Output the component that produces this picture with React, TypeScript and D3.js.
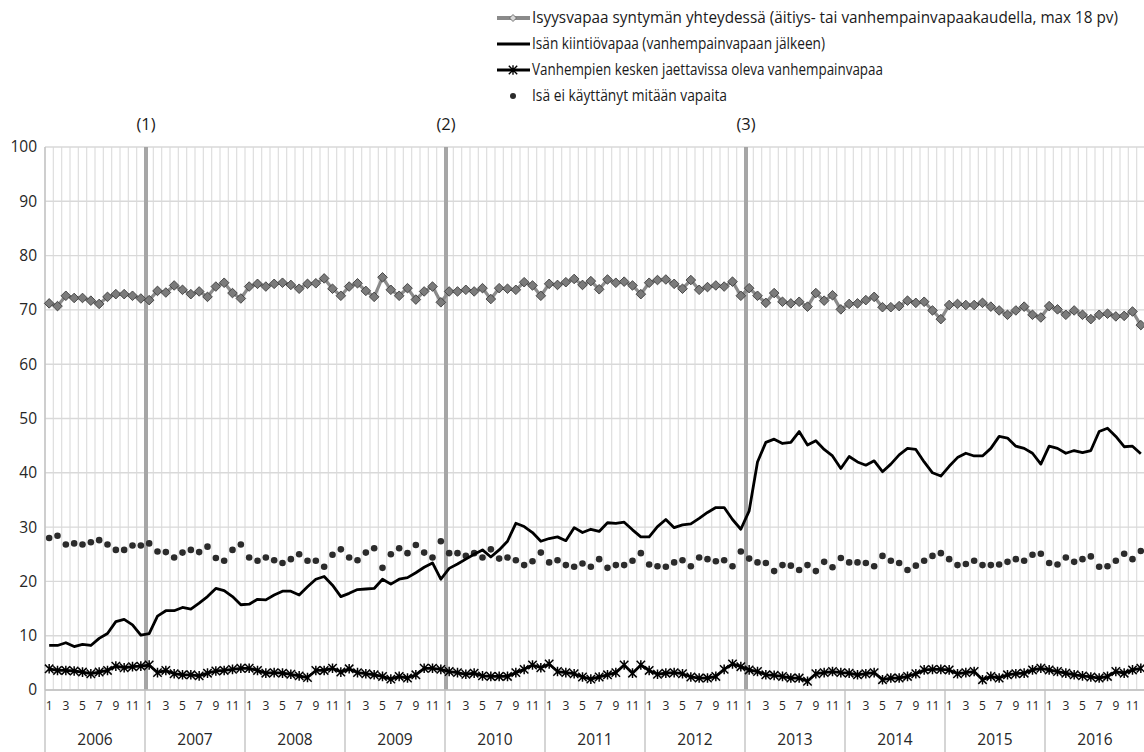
import React from 'react';
import * as d3 from 'd3';

const years = ['2006', '2007', '2008', '2009', '2010', '2011', '2012', '2013', '2014', '2015', '2016'];
const monthTicks = [1, 3, 5, 7, 9, 11];
const yTicks = [0, 10, 20, 30, 40, 50, 60, 70, 80, 90, 100];

const legendLabels = [
  'Isyysvapaa syntymän yhteydessä (äitiys- tai vanhempainvapaakaudella, max 18 pv)',
  'Isän kiintiövapaa (vanhempainvapaan jälkeen)',
  'Vanhempien kesken jaettavissa oleva vanhempainvapaa',
  'Isä ei käyttänyt mitään vapaita',
];

const periodLabels = ['(1)', '(2)', '(3)'];
const periodStartIndex = [12, 48, 84];

const paternityAtBirth = [
  71.2, 70.7, 72.6, 72.2, 72.2, 71.7, 71.1, 72.4, 72.9, 72.9, 72.6, 72.1,
  71.8, 73.5, 73.2, 74.5, 73.7, 72.9, 73.4, 72.4, 74.3, 75.0, 73.1, 72.1,
  74.3, 74.8, 74.3, 74.8, 75.0, 74.6, 73.9, 74.8, 74.9, 75.8, 73.9, 72.6,
  74.3, 74.9, 73.5, 72.4, 76.0, 73.7, 72.6, 74.0, 71.9, 73.4, 74.3, 71.4,
  73.4, 73.4, 73.7, 73.4, 74.0, 72.0, 74.0, 73.9, 73.7, 75.1, 74.5, 72.6,
  74.8, 74.6, 75.1, 75.7, 74.6, 75.3, 73.8, 75.6, 75.0, 75.2, 74.5, 72.9,
  75.0, 75.5, 75.6, 74.8, 73.9, 75.5, 73.7, 74.2, 74.5, 74.3, 75.2, 72.6,
  74.0, 72.6, 71.3, 73.1, 71.5, 71.2, 71.5, 70.6, 73.1, 71.7, 72.7, 70.1,
  71.1, 71.2, 71.8, 72.4, 70.5, 70.5, 70.7, 71.7, 71.3, 71.5, 69.9, 68.3,
  70.9, 71.1, 70.9, 70.9, 71.3, 70.6, 69.9, 69.1, 69.9, 70.6, 69.1, 68.6,
  70.7, 70.1, 69.1, 69.9, 69.1, 68.3, 69.1, 69.3, 68.8, 68.9, 69.7, 67.2,
];

const fathersQuota = [
  8.2, 8.2, 8.7, 8.0, 8.4, 8.2, 9.5, 10.4, 12.6, 13.0, 12.0, 10.1,
  10.4, 13.6, 14.6, 14.6, 15.2, 14.9, 16.0, 17.2, 18.7, 18.3, 17.2, 15.7,
  15.8, 16.7, 16.6, 17.5, 18.2, 18.2, 17.5, 19.0, 20.4, 20.9, 19.3, 17.2,
  17.8, 18.5, 18.6, 18.7, 20.4, 19.5, 20.4, 20.7, 21.6, 22.6, 23.4, 20.4,
  22.4, 23.2, 24.1, 25.0, 25.8, 24.5, 25.8, 27.4, 30.7, 30.1, 29.0, 27.4,
  27.9, 28.2, 27.5, 29.9, 29.0, 29.6, 29.2, 30.8, 30.7, 30.9, 29.5, 28.2,
  28.2, 30.1, 31.4, 29.9, 30.4, 30.6, 31.6, 32.7, 33.6, 33.6, 31.4, 29.6,
  33.0, 42.0, 45.6, 46.2, 45.4, 45.6, 47.6, 45.1, 45.9, 44.3, 43.1, 40.8,
  43.0, 42.0, 41.4, 42.2, 40.2, 41.6, 43.3, 44.5, 44.3, 42.0, 40.0, 39.4,
  41.2, 42.8, 43.6, 43.1, 43.1, 44.5, 46.7, 46.4, 44.9, 44.5, 43.6, 41.6,
  44.9, 44.5, 43.6, 44.1, 43.7, 44.1, 47.6, 48.2, 46.7, 44.8, 44.9, 43.5,
];

const sharedParental = [
  3.9, 3.6, 3.6, 3.5, 3.3, 3.0, 3.3, 3.6, 4.4, 4.1, 4.3, 4.4,
  4.6, 3.2, 3.6, 3.0, 2.8, 2.8, 2.6, 3.1, 3.5, 3.6, 3.8, 4.0,
  4.0, 3.6, 3.1, 3.2, 3.1, 2.9, 2.6, 2.3, 3.6, 3.6, 4.0, 3.3,
  3.9, 3.2, 3.0, 2.8, 2.5, 2.0, 2.5, 2.2, 2.8, 4.0, 4.0, 3.8,
  3.4, 3.2, 2.9, 3.1, 2.6, 2.5, 2.5, 2.5, 3.2, 3.8, 4.6, 4.1,
  4.8, 3.4, 3.2, 3.0, 2.4, 2.0, 2.4, 2.8, 3.2, 4.6, 3.1, 4.6,
  3.6, 2.9, 3.1, 3.2, 3.0, 2.4, 2.2, 2.2, 2.5, 3.8, 4.8, 4.3,
  3.7, 3.4, 2.8, 2.7, 2.5, 2.2, 2.2, 1.6, 3.0, 3.2, 3.4, 3.2,
  3.1, 2.8, 3.0, 3.2, 1.9, 2.2, 2.2, 2.5, 3.0, 3.7, 3.8, 3.8,
  3.7, 3.0, 3.2, 3.4, 1.9, 2.5, 2.2, 2.8, 3.0, 3.1, 3.7, 4.0,
  3.7, 3.4, 3.1, 2.8, 2.6, 2.4, 2.2, 2.5, 3.4, 3.1, 3.7, 4.0,
];

const noLeave = [
  28.0, 28.4, 26.8, 27.0, 26.8, 27.2, 27.6, 26.8, 25.8, 25.8, 26.6, 26.6,
  27.0, 25.5, 25.4, 24.4, 25.3, 25.8, 25.4, 26.4, 24.3, 23.8, 25.8, 26.8,
  24.4, 23.8, 24.4, 23.9, 23.4, 24.1, 25.0, 23.8, 23.8, 22.7, 24.9, 25.9,
  24.4, 23.9, 25.3, 26.1, 22.5, 25.0, 26.1, 25.2, 26.7, 25.3, 24.4, 27.4,
  25.2, 25.2, 24.7, 25.2, 24.4, 25.9, 24.2, 24.4, 23.9, 23.0, 23.7, 25.3,
  23.5, 23.9, 23.0, 22.7, 23.3, 22.7, 24.1, 22.5, 23.0, 23.0, 23.8, 25.2,
  23.1, 22.8, 22.7, 23.5, 23.9, 22.8, 24.4, 24.1, 23.7, 23.9, 22.8, 25.5,
  24.2, 23.5, 23.4, 21.9, 23.0, 22.9, 22.1, 23.0, 21.9, 23.6, 22.6, 24.3,
  23.5, 23.5, 23.4, 22.8, 24.7, 23.8, 23.4, 22.1, 22.9, 23.8, 24.7, 25.2,
  24.1, 23.0, 23.2, 23.8, 23.0, 23.0, 23.1, 23.6, 24.1, 23.8, 24.9, 25.1,
  23.4, 23.1, 24.4, 23.6, 24.1, 24.6, 22.7, 22.8, 23.8, 25.1, 24.1, 25.6,
];

const FONT = '"Open Sans", "Noto Sans", sans-serif';
const STAR = 'M-4.2,-4.2L4.2,4.2M-4.2,4.2L4.2,-4.2M0,-4.8L0,4.8';
const DIAMOND = 'M0,-4.8L4.8,0L0,4.8L-4.8,0Z';

export default function App() {
  const W = 1144;
  const H = 752;
  const left = 45;
  const right = 1145;
  const top = 147;
  const bottom = 690;
  const n = years.length * 12;
  const idx = d3.range(n);

  const x = d3.scaleBand<number>().domain(idx).range([left, right]).padding(0);
  const bw = x.bandwidth();
  const cx = (i: number) => (x(i) as number) + bw / 2;
  const y = d3.scaleLinear().domain([0, 100]).range([bottom, top]);

  const line = d3
    .line<number>()
    .x((_, i) => cx(i))
    .y((d) => y(d));

  const boundaries = d3.range(n + 1).map((i) => left + i * bw);

  const legendX = 532;
  const legendYs = [18, 44, 70, 96];
  const legendWidths = [586, 293, 351, 195];

  return (
    <svg
      width={W}
      height={H}
      style={{ position: 'absolute', left: 0, top: 0, background: '#fff' }}
      fontFamily={FONT}
    >
      <rect x={0} y={0} width={W} height={H} fill="#fff" />
      {/* vertical gridlines */}
      {boundaries.map((bx, i) => (
        <line key={'vg' + i} x1={bx} x2={bx} y1={top} y2={bottom} stroke="#dedede" strokeWidth={1.2} />
      ))}
      {/* horizontal gridlines */}
      {yTicks.map((t) => (
        <line key={'hg' + t} x1={left} x2={W} y1={y(t)} y2={y(t)} stroke="#d9d9d9" strokeWidth={1.4} />
      ))}
      {/* left axis */}
      <line x1={left} x2={left} y1={top} y2={H} stroke="#bfbfbf" strokeWidth={1.3} />
      {/* y tick labels */}
      {yTicks.map((t) => (
        <text key={'yt' + t} x={37} y={y(t)} dy="0.35em" textAnchor="end" fontSize={15.5} fill="#262626">
          {t}
        </text>
      ))}
      {/* period lines */}
      {periodStartIndex.map((pi, k) => (
        <g key={'p' + k}>
          <line x1={(x(pi) as number) + 1} x2={(x(pi) as number) + 1} y1={top} y2={bottom} stroke="#a6a6a6" strokeWidth={4} />
          <text x={(x(pi) as number) + 1} y={130} textAnchor="middle" fontSize={16.5} fill="#1a1a1a">
            {periodLabels[k]}
          </text>
        </g>
      ))}
      {/* x axis */}
      <line x1={left} x2={W} y1={bottom} y2={bottom} stroke="#bfbfbf" strokeWidth={1.3} />
      {years.map((yr, k) => {
        const x0 = x(k * 12) as number;
        const x1 = x0 + bw * 12;
        return (
          <g key={'yr' + yr}>
            <line x1={x1} x2={x1} y1={bottom} y2={H} stroke="#bfbfbf" strokeWidth={1.3} />
            {monthTicks.map((m) => (
              <text key={m} x={cx(k * 12 + m - 1)} y={706} dy="0.35em" textAnchor="middle" fontSize={12} fill="#262626">
                {m}
              </text>
            ))}
            <text x={(x0 + x1) / 2} y={740} dy="0.35em" textAnchor="middle" fontSize={15.5} fill="#262626">
              {yr}
            </text>
          </g>
        );
      })}

      {/* dots series */}
      {noLeave.map((v, i) => (
        <circle key={'d' + i} cx={cx(i)} cy={y(v)} r={3.3} fill="#2b2b2b" />
      ))}
      {/* shared parental leave (stars) */}
      <path d={line(sharedParental) || ''} fill="none" stroke="#000" strokeWidth={2.8} strokeLinejoin="round" />
      {sharedParental.map((v, i) => (
        <path key={'s' + i} d={STAR} transform={`translate(${cx(i)},${y(v)})`} stroke="#000" strokeWidth={1.5} fill="none" />
      ))}
      {/* father's quota */}
      <path d={line(fathersQuota) || ''} fill="none" stroke="#000" strokeWidth={2.8} strokeLinejoin="round" />
      {/* paternity leave at birth */}
      <path d={line(paternityAtBirth) || ''} fill="none" stroke="#8a8a8a" strokeWidth={3.2} strokeLinejoin="round" />
      {paternityAtBirth.map((v, i) => (
        <path key={'m' + i} d={DIAMOND} transform={`translate(${cx(i)},${y(v)})`} fill="#7b7b7b" stroke="#3c3c3c" strokeWidth={0.9} />
      ))}

      {/* legend */}
      <g>
        <line x1={497} x2={530} y1={legendYs[0]} y2={legendYs[0]} stroke="#8a8a8a" strokeWidth={4} />
        <path d="M0,-3.5L3.5,0L0,3.5L-3.5,0Z" transform={`translate(513,${legendYs[0]})`} fill="#d8d8d8" stroke="#5a5a5a" strokeWidth={0.8} />
        <line x1={497} x2={530} y1={legendYs[1]} y2={legendYs[1]} stroke="#000" strokeWidth={3} />
        <line x1={497} x2={530} y1={legendYs[2]} y2={legendYs[2]} stroke="#000" strokeWidth={3} />
        <path d={STAR} transform={`translate(513,${legendYs[2]})`} stroke="#000" strokeWidth={1.4} fill="none" />
        <circle cx={513} cy={legendYs[3]} r={3} fill="#2b2b2b" />
        {legendLabels.map((t, k) => (
          <text
            key={'lg' + k}
            x={legendX}
            y={legendYs[k]}
            dy="0.35em"
            fontSize={15.5}
            fill="#1a1a1a"
            textLength={legendWidths[k]}
            lengthAdjust="spacingAndGlyphs"
          >
            {t}
          </text>
        ))}
      </g>
    </svg>
  );
}
